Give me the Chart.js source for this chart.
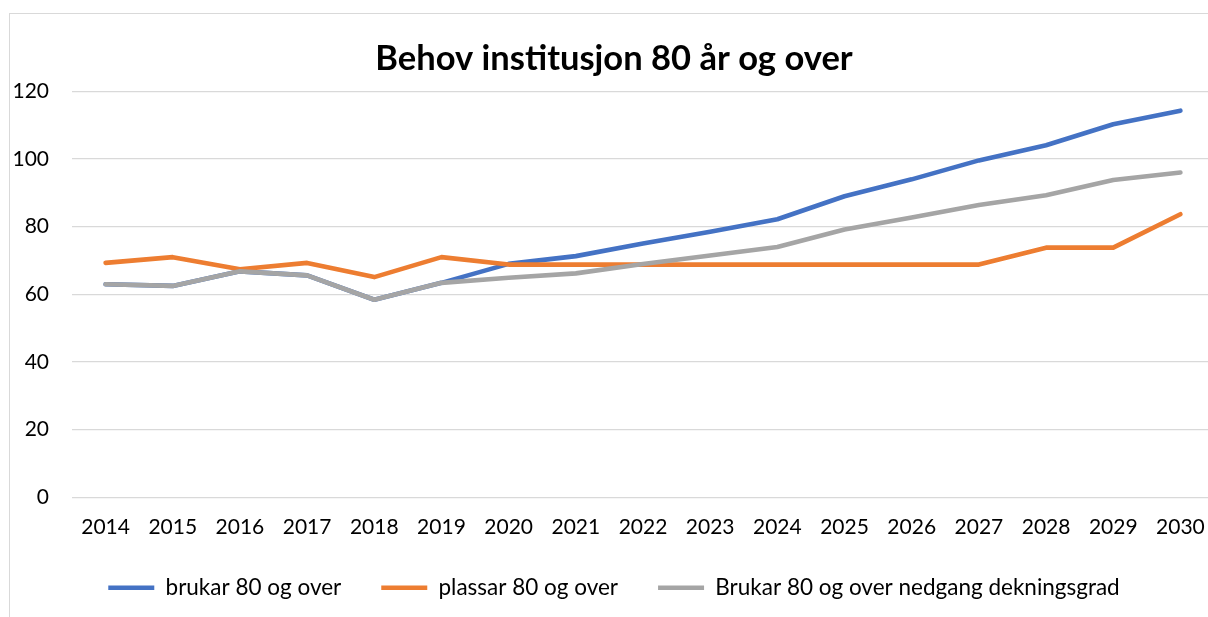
<!DOCTYPE html>
<html>
<head>
<meta charset="utf-8">
<script src="https://cdn.jsdelivr.net/npm/chart.js@4/dist/chart.umd.min.js"></script>
<style>
  html, body { margin: 0; padding: 0; background: #fff; overflow: hidden; width: 1208px; height: 617px; }
  #wrap { position: absolute; left: 9px; top: 13px; width: 1214px; height: 610px;
          border-left: 1px solid #d9d9d9; border-top: 1px solid #d9d9d9; }
  canvas { display: block; }
</style>
</head>
<body>
<div id="wrap"><canvas id="c" width="1214" height="604"></canvas></div>
<script>
const years = ['2014','2015','2016','2017','2018','2019','2020','2021','2022','2023','2024','2025','2026','2027','2028','2029','2030'];
const brukar = [63, 62.5, 66.8, 65.6, 58.4, 63.4, 69, 71.3, 75, 78.5, 82.2, 89, 94, 99.6, 104.1, 110.3, 114.3];
const plassar = [69.3, 71.0, 67.4, 69.3, 65.1, 71.0, 68.8, 68.8, 68.8, 68.8, 68.8, 68.8, 68.8, 68.8, 73.8, 73.8, 83.7];
const brukarNedgang = [63, 62.5, 66.8, 65.6, 58.4, 63.4, 64.9, 66.2, 69.0, 71.5, 74.0, 79.2, 82.7, 86.4, 89.3, 93.8, 96.0];
const seriesNames = ['brukar 80 og over', 'plassar 80 og over', 'Brukar 80 og over nedgang dekningsgrad'];
const yTicks = [0, 20, 40, 60, 80, 100, 120];
const titleText = 'Behov institusjon 80 år og over';

const FONT = 'Lato, "Open Sans", sans-serif';
const mk = (label, data, color, order) => ({
  label, data, borderColor: color, backgroundColor: color,
  borderWidth: 4.6, pointRadius: 0, pointHoverRadius: 0, tension: 0,
  borderCapStyle: 'round', borderJoinStyle: 'round', order, fill: false,
  pointStyle: 'line'
});

new Chart(document.getElementById('c'), {
  type: 'line',
  data: {
    labels: years,
    datasets: [
      mk(seriesNames[0], brukar, '#4472C4', 2),
      mk(seriesNames[1], plassar, '#ED7D31', 1),
      mk(seriesNames[2], brukarNedgang, '#A5A5A5', 0)
    ]
  },
  options: {
    responsive: false,
    animation: false,
    events: [],
    layout: { padding: { left: 4, right: 10, top: 24, bottom: 9 } },
    plugins: {
      title: {
        display: true, text: titleText, color: '#000',
        font: { family: FONT, size: 34.5, weight: 'bold' },
        padding: { top: 0, bottom: 12 }
      },
      legend: {
        position: 'bottom',
        labels: {
          usePointStyle: true, pointStyleWidth: 46,
          color: '#000', font: { family: FONT, size: 22.5 },
          padding: 40, boxHeight: 20,
          sort: (a, b) => a.datasetIndex - b.datasetIndex
        }
      },
      tooltip: { enabled: false }
    },
    scales: {
      x: {
        offset: true,
        grid: { display: false, drawTicks: false },
        border: { display: false },
        ticks: { color: '#000', font: { family: FONT, size: 21 }, padding: 17, maxRotation: 0, autoSkip: false },
        afterFit: (s) => { s.height -= 20; }
      },
      y: {
        min: 0, max: 120,
        afterBuildTicks: (s) => { s.ticks = yTicks.map(v => ({ value: v })); },
        grid: { color: '#d9d9d9', lineWidth: 1.3, drawTicks: false },
        border: { display: false },
        ticks: { color: '#000', font: { family: FONT, size: 21 }, padding: 23 },
        afterFit: (s) => { s.width = 58; }
      }
    }
  }
});
</script>
</body>
</html>
